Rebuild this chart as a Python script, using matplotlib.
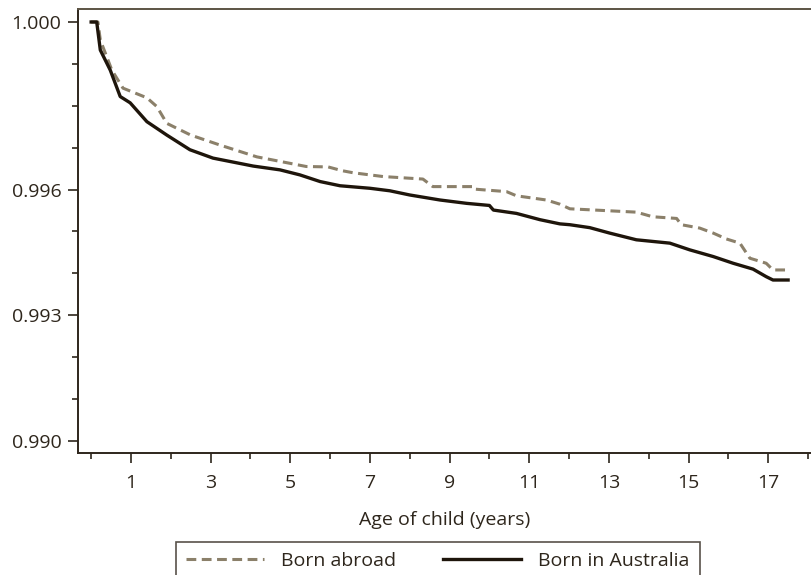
# Survival curves by birthplace of parent
from matplotlib import pyplot as plt

plt.rcParams['font.family'] = ['Open Sans', 'DejaVu Sans']

# Born abroad (dashed)
t_abroad = [0, 0.17, 0.23, 0.52, 0.8, 1.4, 1.65, 1.9, 2.5, 3.24, 4.16, 5.4, 5.95, 6.3, 6.58,
            7.33, 8.33, 8.58, 9.59, 9.62, 10.43, 10.68, 11.43, 11.77, 12.02, 13.69, 14.1,
            14.7, 14.82, 15.28, 15.62, 15.95, 16.29, 16.54, 16.95, 17.12, 17.5]
s_abroad = [1.0, 1.0, 0.99957, 0.99885, 0.99842, 0.99819, 0.99798, 0.99758, 0.99730, 0.99706,
            0.99678, 0.99655, 0.99654, 0.99645, 0.99640, 0.99631, 0.99625, 0.99607, 0.99607,
            0.99601, 0.99595, 0.99585, 0.99575, 0.99565, 0.99554, 0.99546, 0.99535, 0.99531,
            0.99516, 0.99508, 0.99496, 0.99482, 0.99472, 0.99436, 0.99424, 0.99408, 0.99408]

# Born in Australia (solid)
t_aus = [0, 0.14, 0.23, 0.48, 0.73, 0.98, 1.4, 1.9, 2.48, 3.06, 4.07, 4.74, 5.24, 5.75, 6.25,
         7.0, 7.5, 8.0, 8.76, 9.43, 10.0, 10.1, 10.68, 11.27, 11.77, 12.02, 12.52, 13.02,
         13.69, 14.53, 15.03, 15.62, 16.12, 16.62, 16.95, 17.12, 17.5]
s_aus = [1.0, 1.0, 0.99933, 0.99885, 0.99822, 0.99807, 0.99762, 0.99730, 0.99695, 0.99675,
         0.99656, 0.99647, 0.99635, 0.99619, 0.99609, 0.99603, 0.99597, 0.99587, 0.99575,
         0.99567, 0.99562, 0.99551, 0.99543, 0.99528, 0.99518, 0.99516, 0.99509, 0.99496,
         0.99480, 0.99472, 0.99456, 0.99440, 0.99424, 0.99410, 0.99392, 0.99384, 0.99384]

yticks = [0.990, 0.993, 0.996, 1.000]
yminor = [0.991, 0.992, 0.994, 0.995, 0.997, 0.998, 0.999]
xticks = [1, 3, 5, 7, 9, 11, 13, 15, 17]
xminor = [0, 2, 4, 6, 8, 10, 12, 14, 16, 18]

txt = '#2e261c'
fig = plt.figure(figsize=(8.12, 5.75), dpi=100)
ax = fig.add_axes([78/812, 1 - 453/575, 1 - 78/812, 444/575])

ax.plot(t_abroad, s_abroad, color='#8b806a', lw=2.2, ls=(0, (3.2, 1.8)), label='Born abroad')
ax.plot(t_aus, s_aus, color='#1e150b', lw=2.4, label='Born in Australia')

ax.set_xlim(-0.33, 18.1)
ax.set_ylim(0.98971, 1.00031)
ax.set_yticks(yticks)
ax.set_yticklabels(['%.3f' % v for v in yticks])
ax.set_yticks(yminor, minor=True)
ax.set_xticks(xticks)
ax.set_xticks(xminor, minor=True)
ax.tick_params(which='major', length=7, width=1.2, color=txt, labelcolor=txt, labelsize=14, pad=5)
ax.tick_params(axis='x', which='major', pad=8)
ax.tick_params(which='minor', length=4, width=1.2, color=txt)
for s in ['left', 'bottom', 'top']:
    ax.spines[s].set_color(txt)
    ax.spines[s].set_linewidth(1.4)
ax.spines['top'].set_color('#5c5444')
ax.spines['right'].set_visible(False)

ax.set_xlabel('Age of child (years)', color=txt, fontsize=14, labelpad=14)

leg = fig.legend(loc='upper center', bbox_to_anchor=(438/812, 1 - 542/575), ncol=2,
                 fontsize=14, frameon=True, fancybox=False, handlelength=4.0,
                 handletextpad=0.9, columnspacing=2.4, borderpad=0.5, borderaxespad=0)
leg.get_frame().set_edgecolor(txt)
leg.get_frame().set_linewidth(1.2)
for t in leg.get_texts():
    t.set_color(txt)

fig.savefig('out.png')
